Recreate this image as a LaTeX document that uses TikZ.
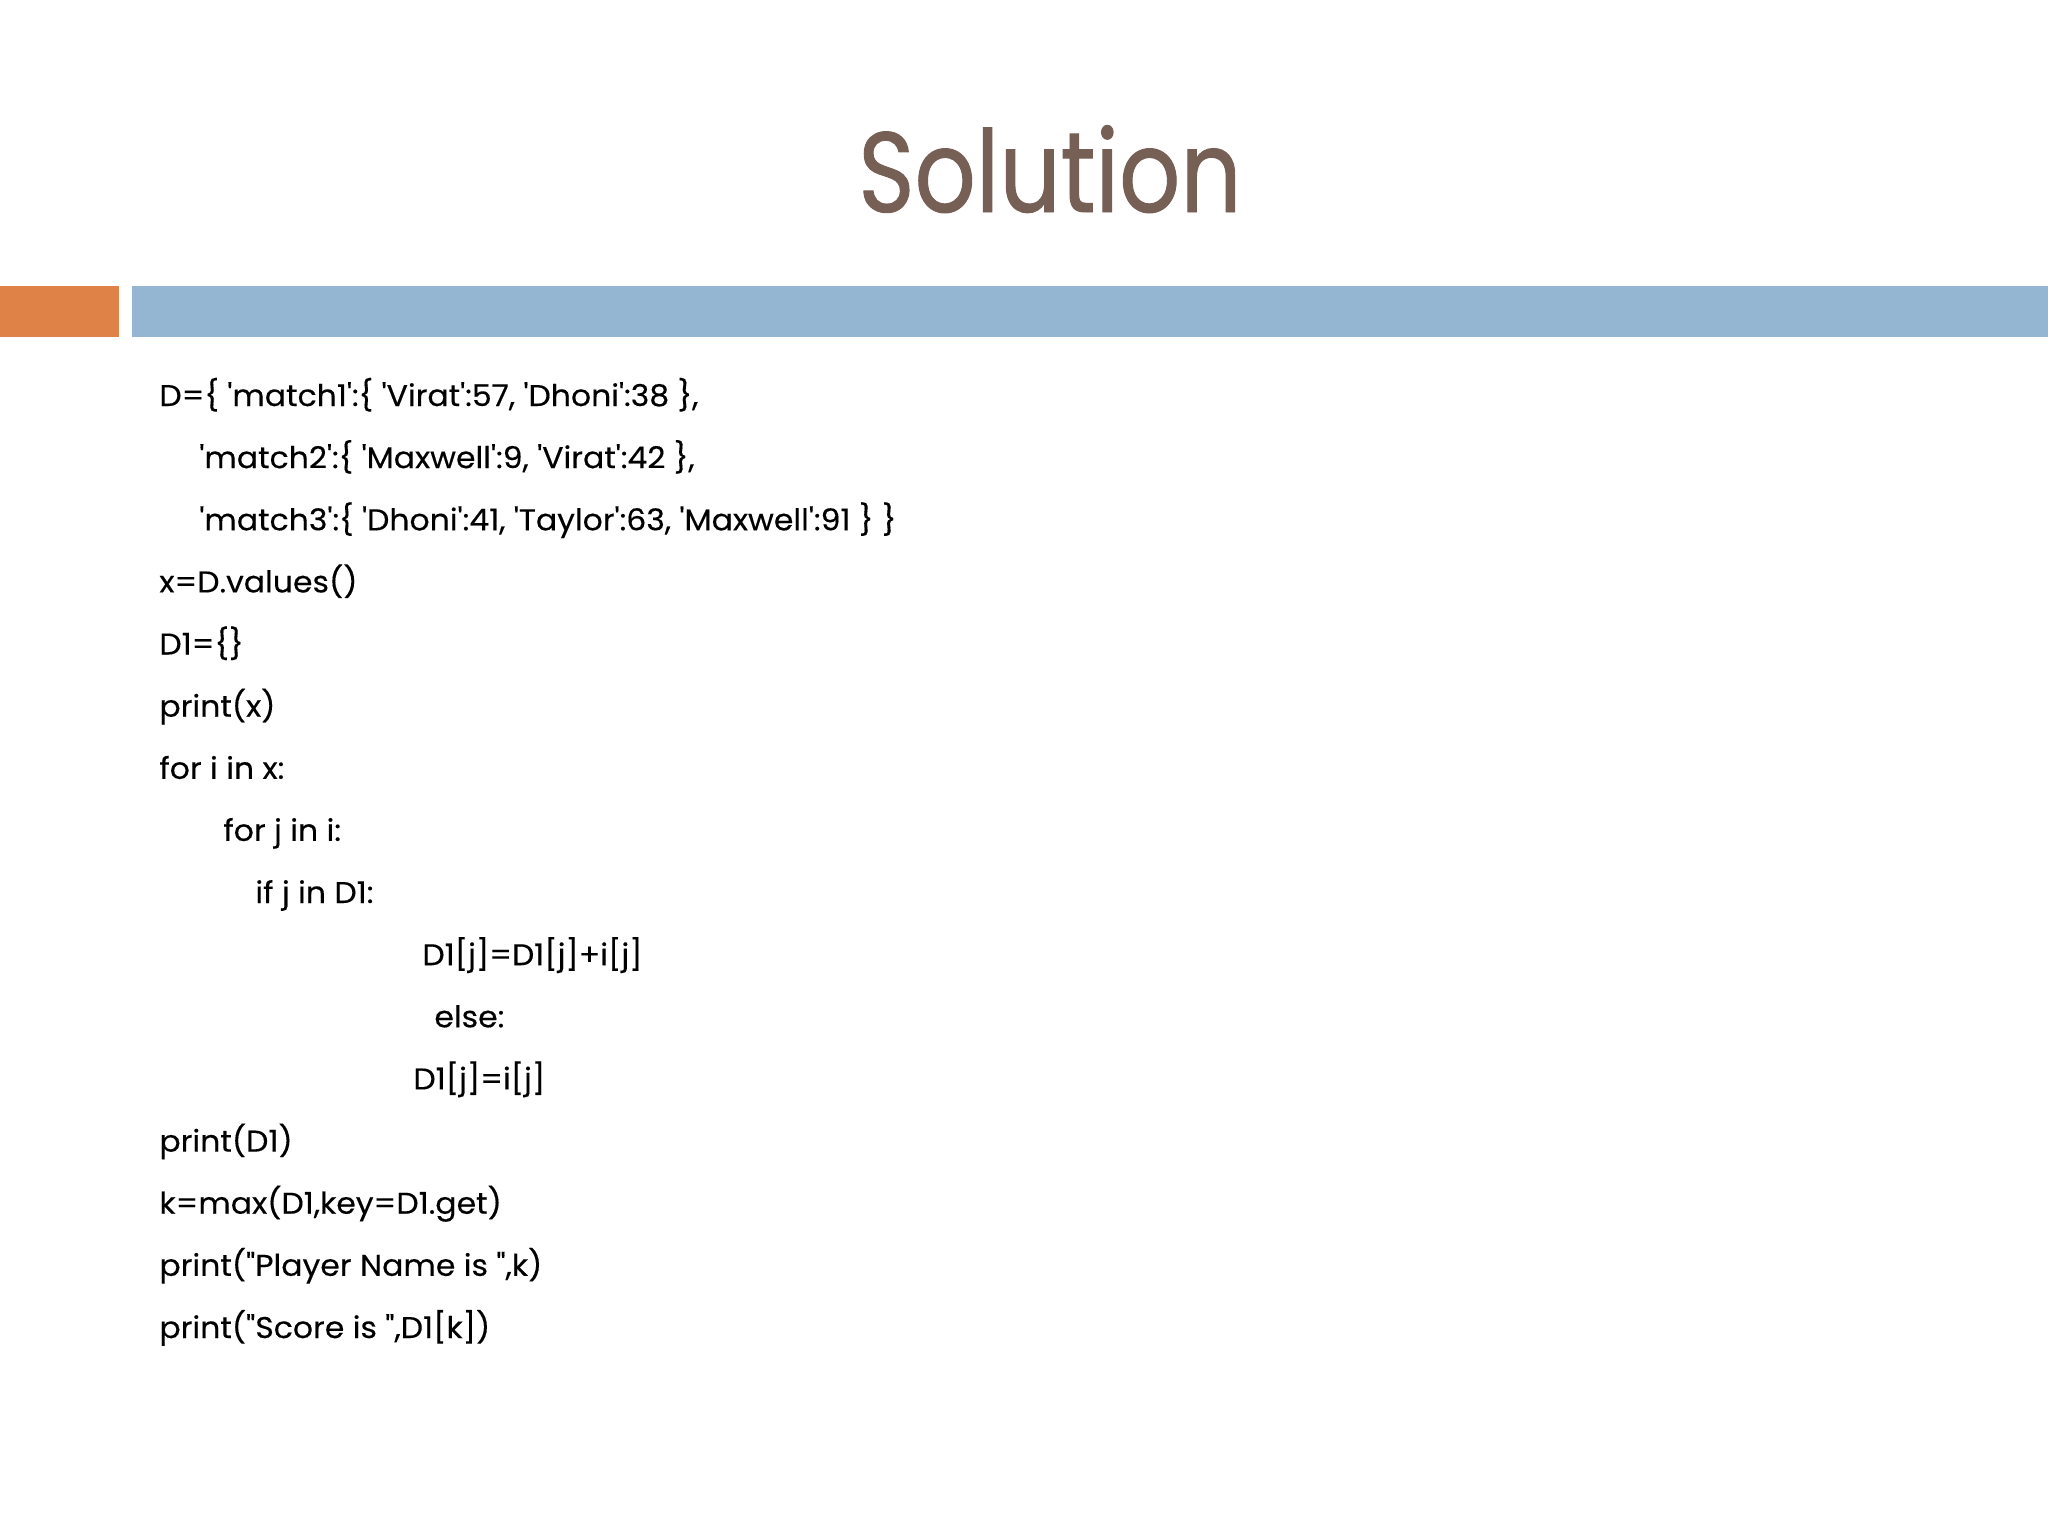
\documentclass[tikz,border=0pt]{standalone}
\usepackage{fontspec}
\setmainfont{Poppins}
\newfontfamily\codefont{Poppins}[Ligatures=TeXOff, FakeStretch=1.05, FakeBold=0.3]
\newfontfamily\titlefont{Poppins}[FakeStretch=0.84, FakeBold=0.8]
\usepackage[HTML]{xcolor}
\usepackage{tikz}
\usetikzlibrary{positioning}

\definecolor{titlebrown}{HTML}{765F55}
\definecolor{barorange}{HTML}{DF8248}
\definecolor{barblue}{HTML}{94B6D2}

\begin{document}
\begin{tikzpicture}[x=0.5pt, y=-0.5pt,
  code/.style={anchor=base west, inner sep=0pt, font=\codefont\fontsize{15}{18}\selectfont}]
\useasboundingbox (0,0) rectangle (2048,1536);

% Title
\node[anchor=base, inner sep=0pt, text=titlebrown, font=\titlefont\fontsize{57}{64}\selectfont] (title) at (1050,212) {Solution};

% Bars
\fill[barorange] (0,286) rectangle (119,337);
\fill[barblue] (132,286) rectangle (2048,337);

% Code lines
\node[code] (l1) at (159,406) {D=\{ 'match1':\{ 'Virat':57, 'Dhoni':38 \},};
\node[code] (l2) at (199,468.1) {'match2':\{ 'Maxwell':9, 'Virat':42 \},};
\node[code] (l3) at (199,530.3) {'match3':\{ 'Dhoni':41, 'Taylor':63, 'Maxwell':91 \} \}};
\node[code] (l4) at (159,592.4) {x=D.values()};
\node[code] (l5) at (159,654.5) {D1=\{\}};
\node[code] (l6) at (159,716.7) {print(x)};
\node[code] (l7) at (159,778.8) {for i in x:};
\node[code] (l8) at (223,840.9) {for j in i:};
\node[code] (l9) at (255,903) {if j in D1:};
\node[code] (l10) at (422,965.2) {D1[j]=D1[j]+i[j]};
\node[code] (l11) at (434,1027.3) {else:};
\node[code] (l12) at (413,1089.4) {D1[j]=i[j]};
\node[code] (l13) at (159,1151.6) {print(D1)};
\node[code] (l14) at (159,1213.7) {k=max(D1,key=D1.get)};
\node[code] (l15) at (159,1275.8) {print("Player Name is ",k)};
\node[code] (l16) at (159,1338) {print("Score is ",D1[k])};
\end{tikzpicture}
\end{document}
